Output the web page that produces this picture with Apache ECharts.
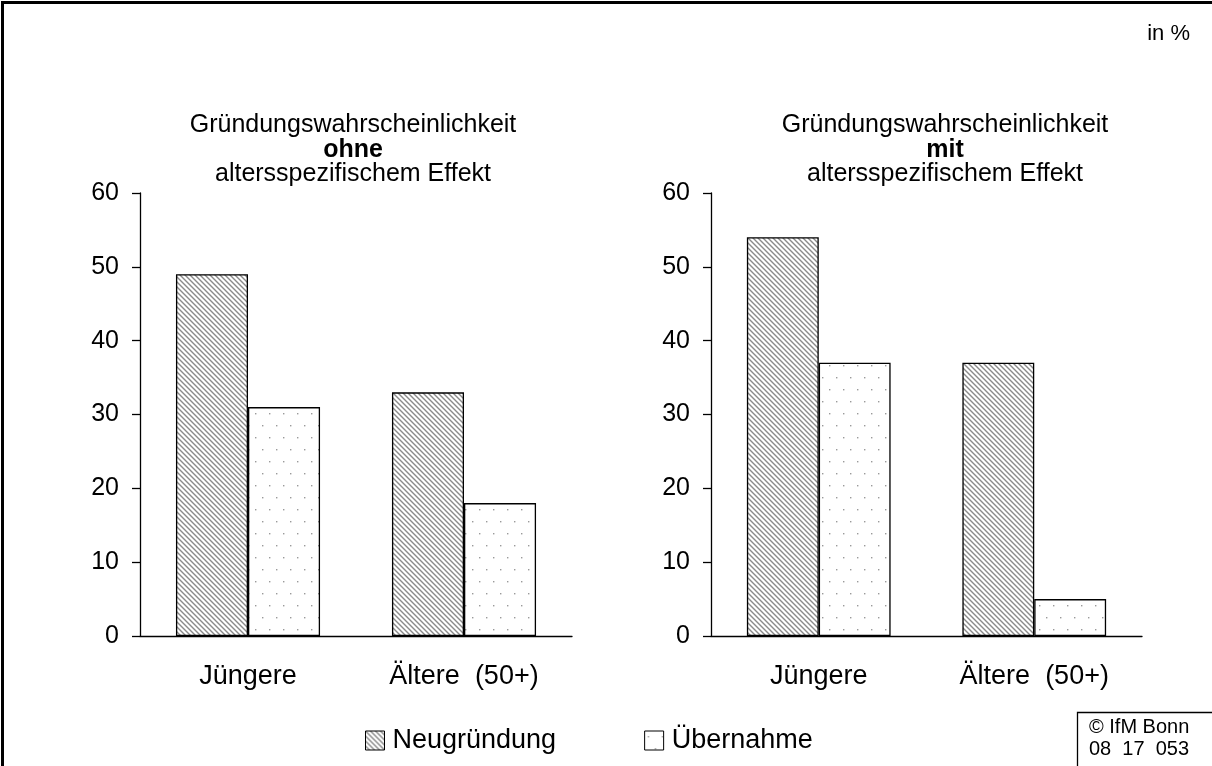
<!DOCTYPE html>
<html><head><meta charset="utf-8">
<script src="https://cdn.jsdelivr.net/npm/echarts@6/dist/echarts.min.js"></script>
<style>html,body{margin:0;padding:0;background:#fff}#c{width:1212px;height:766px}</style>
</head><body><div id="c"></div>
<script>
const categories = ['Jüngere', 'Ältere  (50+)'];
const seriesNames = ['Neugründung', 'Übernahme'];
const ohneNeu = [49, 33];
const ohneUeber = [31, 18];
const mitNeu = [54, 37];
const mitUeber = [37, 5];
const yTicks = {min: 0, max: 60, interval: 10};

function hatch() {
  const c = document.createElement('canvas');
  c.width = 5; c.height = 5;
  const g = c.getContext('2d');
  g.fillStyle = '#fff'; g.fillRect(0,0,5,5);
  g.strokeStyle = '#8a8a8a'; g.lineWidth = 1.4;
  g.beginPath();
  g.moveTo(-1,-1); g.lineTo(6,6);
  g.moveTo(-1,4); g.lineTo(1,6);
  g.moveTo(4,-1); g.lineTo(6,1);
  g.stroke();
  return c;
}
function dots() {
  const c = document.createElement('canvas');
  c.width = 14; c.height = 24;
  const g = c.getContext('2d');
  g.fillStyle = '#fff'; g.fillRect(0,0,14,24);
  g.fillStyle = '#9a9a9a';
  g.fillRect(3,5,1.4,1.4);
  g.fillRect(10,17,1.4,1.4);
  return c;
}
const hatchColor = {image: hatch(), repeat: 'repeat'};
const dotColor = {image: dots(), repeat: 'repeat'};

const chart = echarts.init(document.getElementById('c'), null, {renderer: 'canvas'});
const font = 'Liberation Sans, Arial, sans-serif';
function titleText(word) {
  return '{a|Gründungswahrscheinlichkeit}\n{b|' + word + '}\n{a|altersspezifischem Effekt}';
}
const titleRich = {
  a: {fontSize: 25, fontFamily: font, color: '#000', fontWeight: 'normal', lineHeight: 24.5},
  b: {fontSize: 25, fontFamily: font, color: '#000', fontWeight: 'bold', lineHeight: 24.5}
};
function yAxis(gi) {
  return {
    gridIndex: gi, type: 'value', min: yTicks.min, max: yTicks.max, interval: yTicks.interval,
    axisLine: {show: true, lineStyle: {color: '#000', width: 1.3}},
    axisTick: {show: true, length: 8, lineStyle: {color: '#000', width: 1.3}},
    splitLine: {show: false},
    axisLabel: {fontSize: 25, fontFamily: font, color: '#000', margin: 21}
  };
}
function xAxis(gi) {
  return {
    gridIndex: gi, type: 'category', data: categories,
    axisLine: {show: true, lineStyle: {color: '#000', width: 1.3}},
    axisTick: {show: false},
    axisLabel: {fontSize: 27, fontFamily: font, color: '#000', margin: 27}
  };
}
function bar(name, data, gi, color) {
  return {
    name: name, type: 'bar', data: data, xAxisIndex: gi, yAxisIndex: gi,
    barGap: '0%', barCategoryGap: '33.3%',
    itemStyle: {color: color, borderColor: '#000', borderWidth: 1.3},
    emphasis: {disabled: true}, animation: false
  };
}
chart.setOption({
  animation: false,
  backgroundColor: '#fff',
  title: [
    {text: titleText('ohne'), left: 348, top: 108, textAlign: 'center', textStyle: {rich: titleRich}},
    {text: titleText('mit'), left: 940, top: 108, textAlign: 'center', textStyle: {rich: titleRich}}
  ],
  legend: {
    data: seriesNames, left: 360, top: 722, itemWidth: 19, itemHeight: 19, itemGap: 88,
    icon: 'rect',
    textStyle: {fontSize: 27, fontFamily: font, color: '#000', padding: [0,0,0,3]},
    itemStyle: {borderColor: '#000', borderWidth: 1}
  },
  grid: [
    {left: 140, top: 193, width: 432, height: 443},
    {left: 711, top: 193, width: 431, height: 443}
  ],
  xAxis: [xAxis(0), xAxis(1)],
  yAxis: [yAxis(0), yAxis(1)],
  series: [
    bar(seriesNames[0], ohneNeu, 0, hatchColor),
    bar(seriesNames[1], ohneUeber, 0, dotColor),
    bar(seriesNames[0], mitNeu, 1, hatchColor),
    bar(seriesNames[1], mitUeber, 1, dotColor)
  ],
  graphic: [
    {type: 'polyline', shape: {points: [[2.5, 770], [2.5, 2.5], [1215, 2.5]]}, style: {stroke: '#000', lineWidth: 3, fill: null}, silent: true},
    {type: 'polyline', shape: {points: [[1077.5, 770], [1077.5, 712.5], [1215, 712.5]]}, style: {stroke: '#000', lineWidth: 1.3, fill: null}, silent: true},
    {type: 'text', right: 22, top: 23, style: {text: 'in %', fontSize: 22, fontFamily: font, fill: '#000'}},
    {type: 'text', left: 1089, top: 716, style: {text: '© IfM Bonn\n08  17  053', fontSize: 20, fontFamily: font, fill: '#000', lineHeight: 22}}
  ]
});
</script></body></html>
